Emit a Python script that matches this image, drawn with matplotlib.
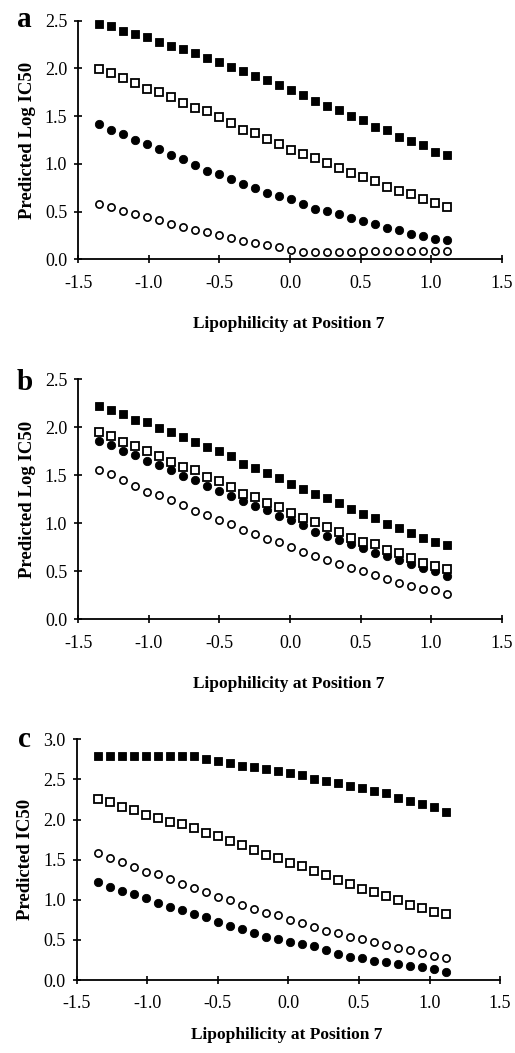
"""
plot.py - three panels of predicted IC50 against lipophilicity at position 7
"""
import matplotlib
matplotlib.use('Agg')
import matplotlib.pyplot as plt

plt.rcParams['font.family'] = ['Liberation Serif', 'DejaVu Serif']

# x positions (lipophilicity at position 7), same for every series
X = [-1.35, -1.265, -1.18, -1.095, -1.01, -0.925, -0.84, -0.755, -0.67, -0.585,
     -0.50, -0.415, -0.33, -0.245, -0.16, -0.075, 0.01, 0.095, 0.18, 0.265,
     0.35, 0.435, 0.52, 0.605, 0.69, 0.775, 0.86, 0.945, 1.03, 1.115]

# panel a
A_SQ_FILLED = [2.47, 2.45, 2.39, 2.36, 2.33, 2.28, 2.24, 2.20, 2.16, 2.11,
               2.07, 2.02, 1.97, 1.92, 1.88, 1.83, 1.77, 1.72, 1.66, 1.61,
               1.56, 1.50, 1.46, 1.39, 1.36, 1.28, 1.24, 1.20, 1.13, 1.09]
A_SQ_OPEN = [1.99, 1.95, 1.90, 1.85, 1.79, 1.75, 1.70, 1.64, 1.59, 1.55,
             1.49, 1.43, 1.36, 1.32, 1.26, 1.21, 1.15, 1.10, 1.06, 1.01,
             0.96, 0.90, 0.86, 0.82, 0.76, 0.72, 0.68, 0.63, 0.59, 0.55]
A_CI_FILLED = [1.42, 1.36, 1.31, 1.25, 1.21, 1.16, 1.09, 1.05, 0.99, 0.93,
               0.89, 0.84, 0.79, 0.75, 0.70, 0.66, 0.63, 0.58, 0.53, 0.51,
               0.47, 0.43, 0.40, 0.37, 0.33, 0.31, 0.27, 0.24, 0.21, 0.20]
A_CI_OPEN = [0.58, 0.55, 0.51, 0.48, 0.44, 0.41, 0.37, 0.34, 0.31, 0.29,
             0.26, 0.22, 0.19, 0.17, 0.15, 0.13, 0.10, 0.08, 0.08, 0.08,
             0.08, 0.08, 0.09, 0.09, 0.09, 0.09, 0.09, 0.09, 0.09, 0.09]

# panel b
B_SQ_FILLED = [2.22, 2.18, 2.14, 2.08, 2.05, 1.99, 1.95, 1.90, 1.85, 1.79,
               1.75, 1.70, 1.62, 1.58, 1.52, 1.47, 1.41, 1.36, 1.30, 1.26,
               1.21, 1.15, 1.10, 1.06, 0.99, 0.95, 0.90, 0.85, 0.81, 0.77]
B_SQ_OPEN = [1.95, 1.91, 1.85, 1.80, 1.75, 1.70, 1.64, 1.59, 1.55, 1.48,
             1.44, 1.38, 1.31, 1.27, 1.21, 1.17, 1.11, 1.06, 1.01, 0.96,
             0.91, 0.85, 0.81, 0.78, 0.72, 0.69, 0.64, 0.59, 0.56, 0.52]
B_CI_FILLED = [1.86, 1.82, 1.75, 1.71, 1.65, 1.61, 1.55, 1.49, 1.45, 1.39,
               1.34, 1.28, 1.23, 1.18, 1.14, 1.08, 1.03, 0.98, 0.91, 0.87,
               0.83, 0.78, 0.74, 0.69, 0.66, 0.62, 0.58, 0.53, 0.50, 0.45]
B_CI_OPEN = [1.56, 1.51, 1.45, 1.39, 1.33, 1.29, 1.24, 1.19, 1.13, 1.09,
             1.03, 0.99, 0.93, 0.89, 0.84, 0.80, 0.75, 0.70, 0.66, 0.62,
             0.58, 0.53, 0.50, 0.46, 0.42, 0.38, 0.35, 0.32, 0.30, 0.26]

# panel c
C_SQ_FILLED = [2.79, 2.79, 2.79, 2.79, 2.79, 2.79, 2.79, 2.79, 2.79, 2.76,
               2.73, 2.70, 2.67, 2.66, 2.63, 2.61, 2.58, 2.55, 2.51, 2.48,
               2.45, 2.42, 2.39, 2.36, 2.33, 2.27, 2.23, 2.20, 2.16, 2.10]
C_SQ_OPEN = [2.25, 2.22, 2.16, 2.12, 2.06, 2.02, 1.97, 1.94, 1.89, 1.83,
             1.79, 1.73, 1.68, 1.62, 1.56, 1.52, 1.46, 1.42, 1.36, 1.31,
             1.25, 1.20, 1.14, 1.10, 1.05, 1.00, 0.93, 0.90, 0.85, 0.82]
C_CI_OPEN = [1.58, 1.52, 1.47, 1.41, 1.35, 1.32, 1.26, 1.20, 1.15, 1.10,
             1.04, 1.00, 0.94, 0.89, 0.84, 0.81, 0.75, 0.71, 0.66, 0.61,
             0.58, 0.54, 0.51, 0.48, 0.44, 0.40, 0.37, 0.34, 0.30, 0.27]
C_CI_FILLED = [1.22, 1.16, 1.11, 1.07, 1.02, 0.96, 0.91, 0.87, 0.82, 0.78,
               0.72, 0.67, 0.63, 0.58, 0.54, 0.51, 0.48, 0.45, 0.42, 0.37,
               0.33, 0.29, 0.27, 0.24, 0.22, 0.20, 0.17, 0.16, 0.14, 0.10]

X_TICKS = [-1.5, -1.0, -0.5, 0.0, 0.5, 1.0, 1.5]
X_LABEL = 'Lipophilicity at Position 7'

# (marcador, relleno, tamaño, grosor de borde)
SQ_FILLED = ('s', True, 6.0, 0.6)
SQ_OPEN = ('s', False, 5.4, 1.3)
CI_FILLED = ('o', True, 6.0, 0.6)
CI_OPEN = ('o', False, 5.2, 1.2)


def marcar(ax, ys, estilo):
    marker, filled, size, mew = estilo
    ax.plot(X, ys, linestyle='none', marker=marker, markersize=size,
            markerfacecolor='black' if filled else 'white',
            markeredgecolor='black', markeredgewidth=mew, clip_on=False, zorder=3)


def panel(rect, letra, ylabel, ymax, yticks, series, xlab_y, letra_xy):
    ax = fig.add_axes(rect)
    for ys, estilo in series:
        marcar(ax, ys, estilo)
    ax.set_xlim(-1.5, 1.5)
    ax.set_ylim(0, ymax)
    ax.set_xticks(X_TICKS)
    ax.set_xticklabels([f'{t:.1f}' for t in X_TICKS])
    ax.set_yticks(yticks)
    ax.set_yticklabels([f'{t:.1f}' for t in yticks])
    ax.spines['top'].set_visible(False)
    ax.spines['right'].set_visible(False)
    ax.spines['left'].set_linewidth(1.3)
    ax.spines['bottom'].set_linewidth(1.3)
    ax.tick_params(axis='both', direction='inout', length=6, width=1.2, labelsize=13)
    ax.tick_params(axis='x', pad=8)
    ax.tick_params(axis='y', pad=5)
    ax.set_ylabel(ylabel, fontsize=13.5, fontweight='bold')
    ax.yaxis.set_label_coords(-0.10, 0.5)
    ax.set_xlabel(X_LABEL, fontsize=12.5, fontweight='bold')
    ax.xaxis.set_label_coords(0.497, xlab_y)
    fig.text(letra_xy[0], letra_xy[1], letra, fontsize=21, fontweight='bold',
             ha='left', va='baseline')
    return ax


fig = plt.figure(figsize=(5.15, 10.53), dpi=100)

panel([0.152, 0.7537, 0.822, 0.2266], 'a', 'Predicted Log IC50', 2.5,
      [0.0, 0.5, 1.0, 1.5, 2.0, 2.5],
      [(A_SQ_FILLED, SQ_FILLED), (A_SQ_OPEN, SQ_OPEN),
       (A_CI_FILLED, CI_FILLED), (A_CI_OPEN, CI_OPEN)],
      -0.238, (0.033, 0.974))

panel([0.152, 0.4119, 0.822, 0.2279], 'b', 'Predicted Log IC50', 2.5,
      [0.0, 0.5, 1.0, 1.5, 2.0, 2.5],
      [(B_SQ_FILLED, SQ_FILLED), (B_CI_FILLED, CI_FILLED),
       (B_SQ_OPEN, SQ_OPEN), (B_CI_OPEN, CI_OPEN)],
      -0.236, (0.033, 0.6296))

panel([0.149, 0.0693, 0.822, 0.2286], 'c', 'Predicted IC50', 3.0,
      [0.0, 0.5, 1.0, 1.5, 2.0, 2.5, 3.0],
      [(C_SQ_FILLED, SQ_FILLED), (C_SQ_OPEN, SQ_OPEN),
       (C_CI_OPEN, CI_OPEN), (C_CI_FILLED, CI_FILLED)],
      -0.197, (0.035, 0.2906))

plt.savefig('out.png', dpi=100)
plt.close()
